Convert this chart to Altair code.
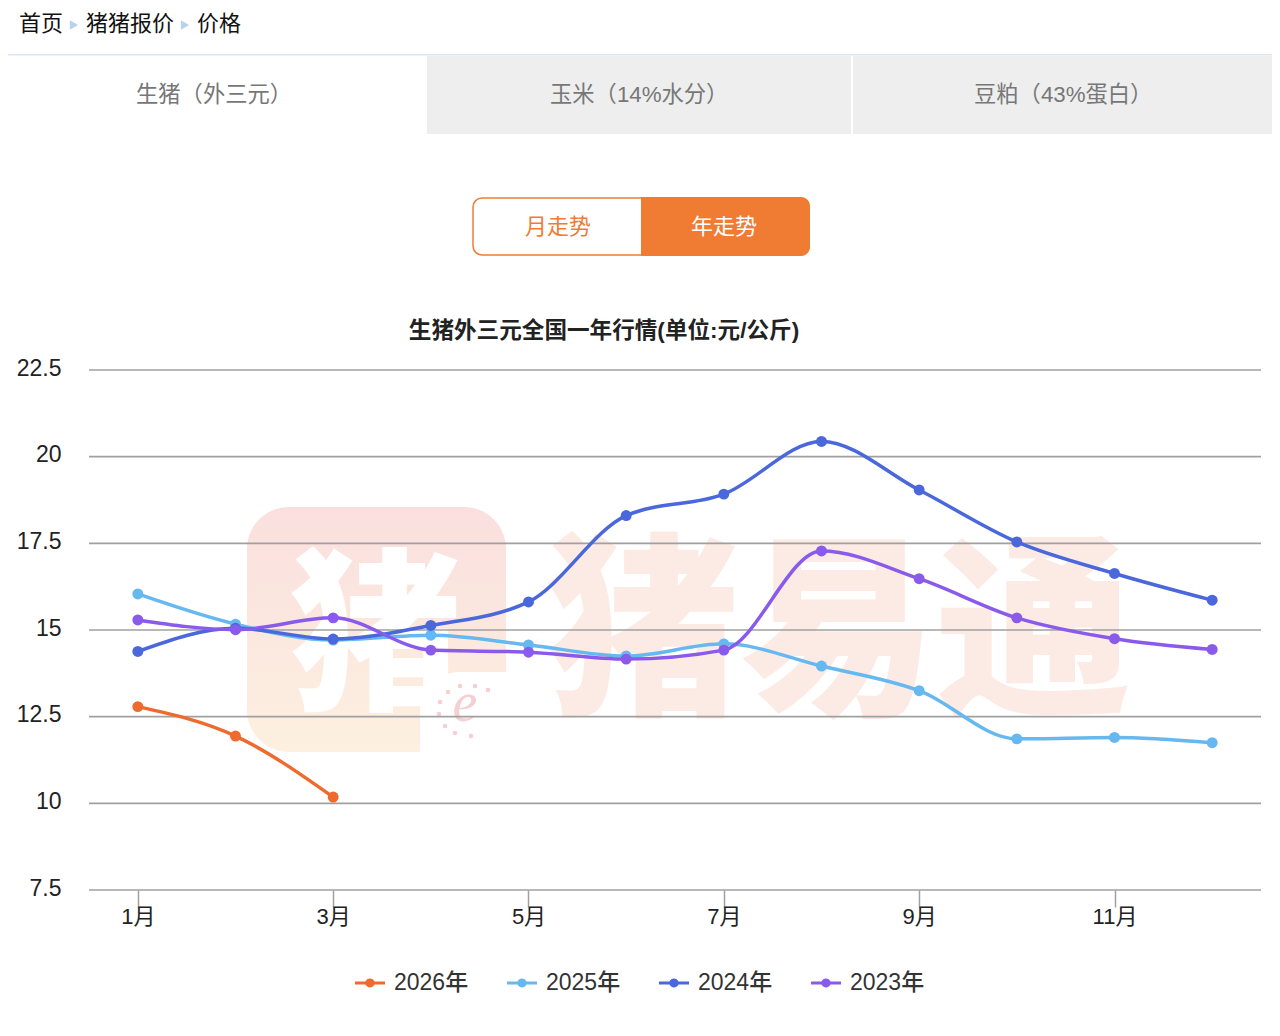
import altair as alt
import pandas as pd

months = ["1月","2月","3月","4月","5月","6月","7月","8月","9月","10月","11月","12月"]
shown_months = ["1月","3月","5月","7月","9月","11月"]
y_ticks = [7.5, 10, 12.5, 15, 17.5, 20, 22.5]
years = ["2026年","2025年","2024年","2023年"]
colors = ["#ee6a2d","#65b8f0","#4a67dc","#8a5aea"]
v2026 = [12.79, 11.94, 10.18]
v2025 = [16.04, 15.17, 14.71, 14.85, 14.57, 14.25, 14.60, 13.96, 13.25, 11.86, 11.90, 11.75]
v2024 = [14.38, 15.05, 14.74, 15.13, 15.81, 18.30, 18.92, 20.44, 19.04, 17.54, 16.63, 15.86]
v2023 = [15.29, 15.01, 15.35, 14.42, 14.36, 14.16, 14.42, 17.28, 16.48, 15.35, 14.75, 14.44]
series = [v2026, v2025, v2024, v2023]
logo_dots = [(488, 690), (475, 686), (460, 686), (448, 692), (440, 702), (439, 714), (445, 726), (455, 733), (471, 736)]

FONT = "Helvetica Neue, Liberation Sans, Noto Sans CJK SC"
CJK = "Noto Sans CJK SC"
OX, OY = 89, 370
one = alt.Data(values=[{"a": 1}])

def text(s, x, y, size, color, weight=400, align="left", font=FONT, **kw):
    return alt.Chart(one).mark_text(fontSize=size, color=color, fontWeight=weight, align=align,
                                    baseline="middle", font=font, **kw).encode(
        x=alt.value(x - OX), y=alt.value(y - OY), text=alt.value(s))

def box(x0, x1, y0, y1, fill, **kw):
    return alt.Chart(one).mark_rect(**kw).encode(
        x=alt.value(x0 - OX), x2=alt.value(x1 - OX),
        y=alt.value(y0 - OY), y2=alt.value(y1 - OY), fill=alt.value(fill))

layers = []
# page chrome
layers += [
    box(0, 1280, 54, 55.5, "#dbe7f6"),
    box(427, 851, 55.5, 134, "#eeeeee"),
    box(853, 1277, 55.5, 134, "#eeeeee"),
    text("首页", 19, 24, 22, "#111111"),
    text("猪猪报价", 86, 24, 22, "#111111"),
    text("价格", 197, 24, 22, "#111111"),
    text("生猪（外三元）", 136, 95, 22.3, "#777777"),
    text("玉米（14%水分）", 550, 95, 22.3, "#777777"),
    text("豆粕（43%蛋白）", 974, 95, 22.3, "#777777"),
    alt.Chart(one).mark_rect(cornerRadius=9, stroke="#f07c33", strokeWidth=1.5, fill="#ffffff").encode(
        x=alt.value(473 - OX), x2=alt.value(809 - OX), y=alt.value(198 - OY), y2=alt.value(255 - OY)),
    box(641, 810, 197, 256, "#f07c33", cornerRadiusTopRight=9, cornerRadiusBottomRight=9),
    text("月走势", 558, 226.5, 22, "#f07c33", align="center"),
    text("年走势", 724, 226.5, 22, "#ffffff", align="center"),
    text("生猪外三元全国一年行情(单位:元/公斤)", 604, 331, 22.6, "#222222", weight=700, align="center"),
]
for cx in (74, 185):
    layers.append(alt.Chart(one).mark_point(shape="triangle-right", filled=True, size=90, color="#b7d1f1", opacity=1)
                  .encode(x=alt.value(cx - OX), y=alt.value(25 - OY)))

# watermark
logo_fill = alt.LinearGradient(gradient="linear", x1=0, x2=0, y1=0, y2=1, stops=[
    alt.GradientStop(color="#fadfde", offset=0), alt.GradientStop(color="#fdf0e0", offset=1)])
layers += [
    alt.Chart(one).mark_rect(cornerRadius=42).encode(
        x=alt.value(247 - OX), x2=alt.value(506 - OX), y=alt.value(507 - OY), y2=alt.value(752 - OY),
        fill=alt.value(logo_fill)),
    text("猪", 375, 644, 174, "#ffffff", weight=900, align="center", font=CJK),
    box(420, 506, 672, 752, "#ffffff", cornerRadiusBottomRight=42, cornerRadiusTopLeft=40),
    text("e", 465, 704, 56, "#f6cfd2", align="center", font="Liberation Serif", fontStyle="italic"),
    text("猪易通", 838, 640, 196, "#fcebe5", weight=900, align="center", font=CJK),
]
for dx, dy in logo_dots:
    layers.append(alt.Chart(one).mark_circle(size=20, color="#f6cfd2", opacity=1)
                  .encode(x=alt.value(dx - OX), y=alt.value(dy - OY)))

y_scale = alt.Scale(domain=[7.5, 22.5], range=[520, 0])
x_scale = alt.Scale(type="point", domain=months, padding=0.5, range=[0, 1172])

# grid drawn over the watermark, below the series
layers.append(alt.Chart(pd.DataFrame({"v": y_ticks})).mark_rule(color="#a0a0a0", strokeWidth=1.6).encode(
    y=alt.Y("v:Q", scale=y_scale, title=None)))

color_scale = alt.Scale(domain=years, range=colors)
legend = alt.Legend(
    orient="none", legendX=355 - OX, legendY=968 - OY, direction="horizontal", columns=4, title=None,
    padding=0, columnPadding=38, labelOffset=9, labelFontSize=23, labelFont=FONT, labelColor="#333333",
    labelFontWeight=500, symbolSize=900,
    symbolType="M -1 -0.1 H -0.3 A 0.33 0.33 0 0 1 0.3 -0.1 H 1 V 0.1 H 0.3 A 0.33 0.33 0 0 1 -0.3 0.1 H -1 Z",
    symbolStrokeWidth=0, symbolOpacity=1)

for i, (yr, vals) in enumerate(zip(years, series)):
    df = pd.DataFrame({"月份": months[:len(vals)], "价格": vals, "年份": yr})
    x = alt.X("月份:N", scale=x_scale, sort=months, title=None,
              axis=alt.Axis(values=shown_months, labelAngle=0, domain=False, grid=False, tickSize=17,
                            tickColor="#a0a0a0", tickWidth=1.5, labelPadding=-1, labelFontSize=22,
                            labelFont=FONT, labelColor="#222222", labelBaseline="top", labelOverlap=False))
    y = alt.Y("价格:Q", scale=y_scale, title=None,
              axis=alt.Axis(values=y_ticks, domain=False, grid=False, ticks=False, labelPadding=28,
                            labelOffset=-2, labelFontSize=23, labelFont=FONT, labelColor="#222222", format=".1~f"))
    layers.append(alt.Chart(df).mark_line(interpolate="monotone", strokeWidth=3.5).encode(
        x=x, y=y, color=alt.Color("年份:N", scale=color_scale, legend=legend)))
    layers.append(alt.Chart(df).mark_circle(size=120, opacity=1).encode(
        x=x, y=y, color=alt.Color("年份:N", scale=color_scale, legend=legend)))

chart = alt.layer(*layers).properties(
    width=1172, height=520,
    padding={"left": 81, "top": 362, "right": 11, "bottom": 138},
    autosize=alt.AutoSizeParams(type="none"),
    background="#ffffff",
).configure_view(stroke=None)

chart.save("out.html", embed_options={"renderer": "svg", "actions": False})
